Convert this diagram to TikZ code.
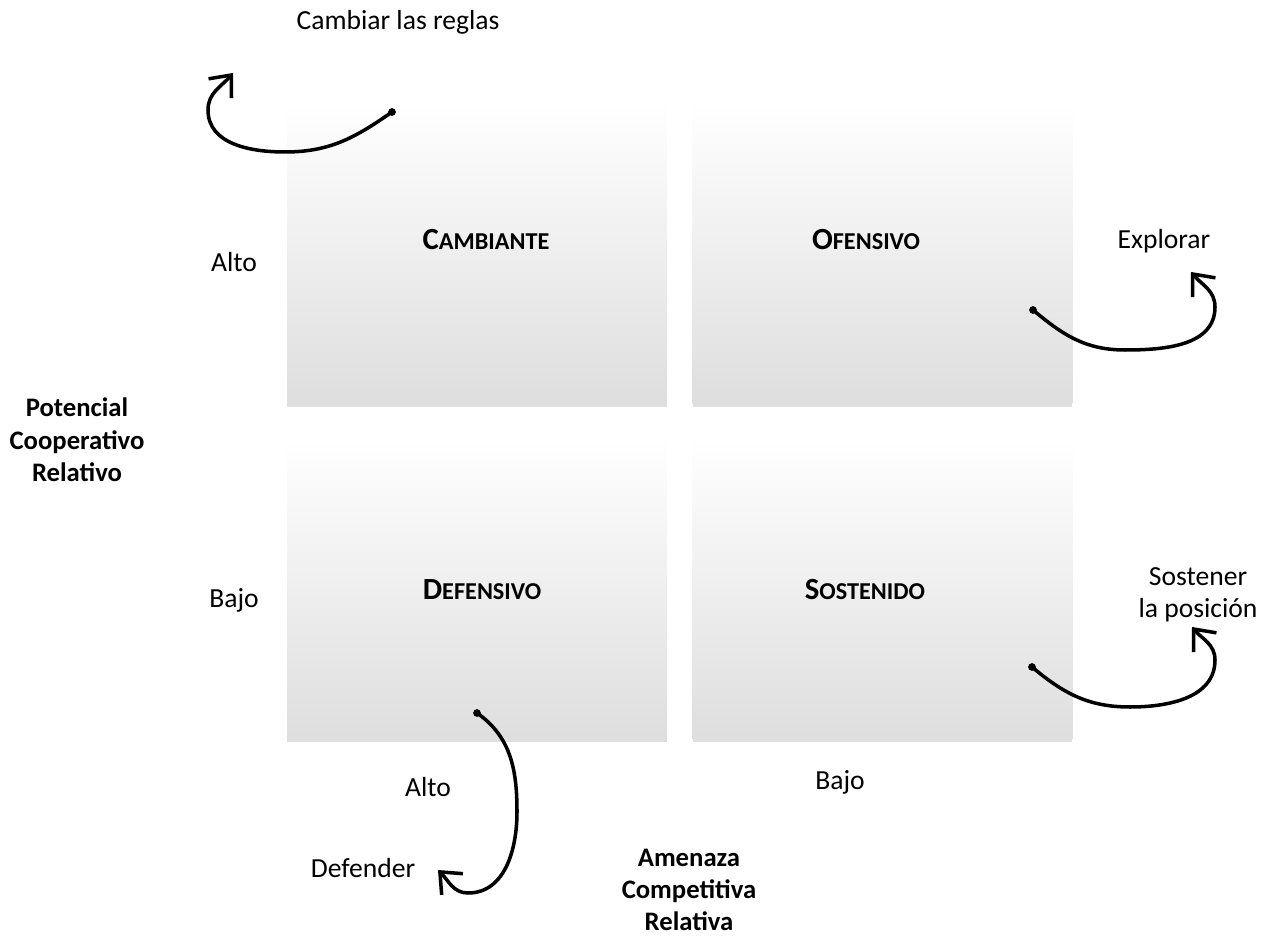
\documentclass[tikz,border=0pt]{standalone}
\usepackage{fontspec}
\setmainfont{Carlito}
\usetikzlibrary{arrows.meta, positioning, shadows}
\newcommand{\capsword}[2]{\textbf{\fontsize{17.5}{17}\selectfont #1\fontsize{13.8}{17}\selectfont #2}}

\begin{document}
\begin{tikzpicture}[x=0.02cm, y=0.02cm,
  every node/.style={font=\fontsize{15.7}{18.5}\selectfont},
  quadrant/.style={minimum width=7.6cm, minimum height=6.04cm, inner sep=0pt,
    top color=white, bottom color=black!13,
    drop shadow={opacity=0.25, shadow xshift=0pt, shadow yshift=-1.5pt}},
  loopmove/.style={line width=2pt, line cap=round, -{Straight Barb[length=3.5mm, width=6mm]}},
  axislabel/.style={align=center, inner sep=1pt, font=\fontsize{15.2}{18.4}\selectfont\bfseries}]
  \useasboundingbox (0,0) rectangle (1272,937);

  % quadrants
  \node[quadrant] (cambiante) at (477,684) {};
  \node[quadrant] (ofensivo) at (882.5,684) {};
  \node[quadrant] (defensivo) at (477,348.5) {};
  \node[quadrant] (sostenido) at (882.5,348.5) {};

  \node (tcambiante) at (486,697) {\capsword{C}{AMBIANTE}};
  \node (tofensivo) at (866,697) {\capsword{O}{FENSIVO}};
  \node (tdefensivo) at (482,347) {\capsword{D}{EFENSIVO}};
  \node (tsostenido) at (865,347) {\capsword{S}{OSTENIDO}};

  % axes
  \node (altoy) at (234,675) {Alto};
  \node (bajoy) at (234,337) {Bajo};
  \node[axislabel] (ejey) at (77,497) {Potencial\\Cooperativo\\Relativo};
  \node (altox) at (428,150) {Alto};
  \node (bajox) at (840,155) {Bajo};
  \node[axislabel] (ejex) at (689,47) {Amenaza\\Competitiva\\Relativa};

  % moves
  \node (reglas) at (398,915) {Cambiar las reglas};
  \node (explorar) at (1164,696) {Explorar};
  \node[align=center] (sostener) at (1198,342) {Sostener\\la posición};
  \node (defender) at (363,69) {Defender};

  \coordinate (c1) at (392,825);
  \coordinate (c2) at (233,864);
  \fill (c1) circle (2.2pt);
  \draw[loopmove] (c1) to[out=215,in=0] (285,785) to[out=180,in=270] (208,827) to[out=90,in=230] (c2);

  \coordinate (o1) at (1033,627);
  \coordinate (o2) at (1191,665);
  \fill (o1) circle (2.2pt);
  \draw[loopmove] (o1) to[out=-40,in=180] (1125,587) to[out=0,in=-90] (1215,630) to[out=90,in=-50] (o2);

  \coordinate (s1) at (1032,270);
  \coordinate (s2) at (1192,310);
  \fill (s1) circle (2.2pt);
  \draw[loopmove] (s1) to[out=-40,in=180] (1130,230) to[out=0,in=-90] (1215,277) to[out=90,in=-50] (s2);

  \coordinate (d1) at (477,224);
  \coordinate (d2) at (438,67);
  \fill (d1) circle (2.2pt);
  \draw[loopmove] (d1) to[out=-35,in=90] (517,125) to[out=-90,in=0] (468,44) to[out=180,in=-45] (d2);
\end{tikzpicture}
\end{document}
